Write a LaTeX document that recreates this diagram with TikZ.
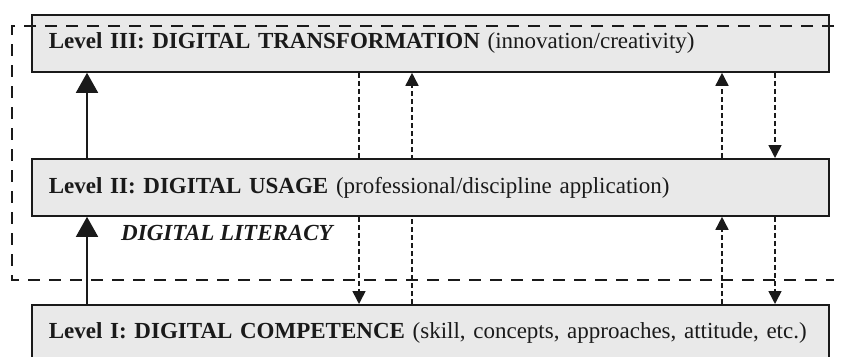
\documentclass[tikz,border=0pt]{standalone}
\usepackage{fontspec}
\setmainfont{Liberation Serif}
\usetikzlibrary{arrows.meta,backgrounds}
\definecolor{boxfill}{HTML}{E9E9E9}
\definecolor{ink}{HTML}{1A1A1A}
\tikzset{
  levelbox/.style={draw=ink, line width=1.8pt, fill=boxfill, anchor=north west,
    minimum width=797pt, minimum height=57pt, text width=763pt, inner xsep=17pt,
    align=left, font=\fontsize{23}{27}\selectfont, text=ink},
  solidarrow/.style={draw=ink, line width=1.6pt, -{Triangle[length=20pt,width=22pt]}},
  dasharrow/.style={draw=ink, line width=1.6pt, dash pattern=on 5pt off 3pt,
    -{Triangle[length=13pt,width=13pt]}},
  litframe/.style={draw=ink, line width=1.6pt, dash pattern=on 12pt off 9pt},
}
\begin{document}
\begin{tikzpicture}[x=1pt,y=-1pt]
\clip (0,0) rectangle (842,356);
\node[levelbox] (III) at (31,14) {\textbf{Level III: DIGITAL TRANSFORMATION} (innovation/creativity)};
\node[levelbox] (II) at (31,158) {\textbf{Level II: DIGITAL USAGE} (professional/discipline application)};
\node[levelbox] (I) at (31,304) {\textbf{Level I: DIGITAL COMPETENCE} (skill, concepts, approaches, attitude, etc.)};
\node[anchor=base west, inner sep=0pt, font=\fontsize{23}{27}\selectfont\bfseries\itshape, text=ink] (lit) at (121,240) {DIGITAL LITERACY};
\coordinate (xa) at (87,0);
\coordinate (xb) at (359,0);
\coordinate (xc) at (412,0);
\coordinate (xd) at (722,0);
\coordinate (xe) at (775,0);
\begin{scope}[on background layer]
  \draw[dasharrow] (III.south -| xb) -- (I.north -| xb);
  \draw[dasharrow] (I.north -| xc) -- (III.south -| xc);
\end{scope}
\draw[solidarrow] (II.north -| xa) -- (III.south -| xa);
\draw[solidarrow] (I.north -| xa) -- (II.south -| xa);
\draw[dasharrow] (II.north -| xd) -- (III.south -| xd);
\draw[dasharrow] (I.north -| xd) -- (II.south -| xd);
\draw[dasharrow] (III.south -| xe) -- (II.north -| xe);
\draw[dasharrow] (II.south -| xe) -- (I.north -| xe);
\coordinate (ftr) at (834,26);
\coordinate (ftl) at (12,26);
\coordinate (fbl) at (12,280);
\coordinate (fbr) at (834,280);
\draw[litframe] (ftr) -- (ftl) -- (fbl) -- (fbr);
\end{tikzpicture}
\end{document}
